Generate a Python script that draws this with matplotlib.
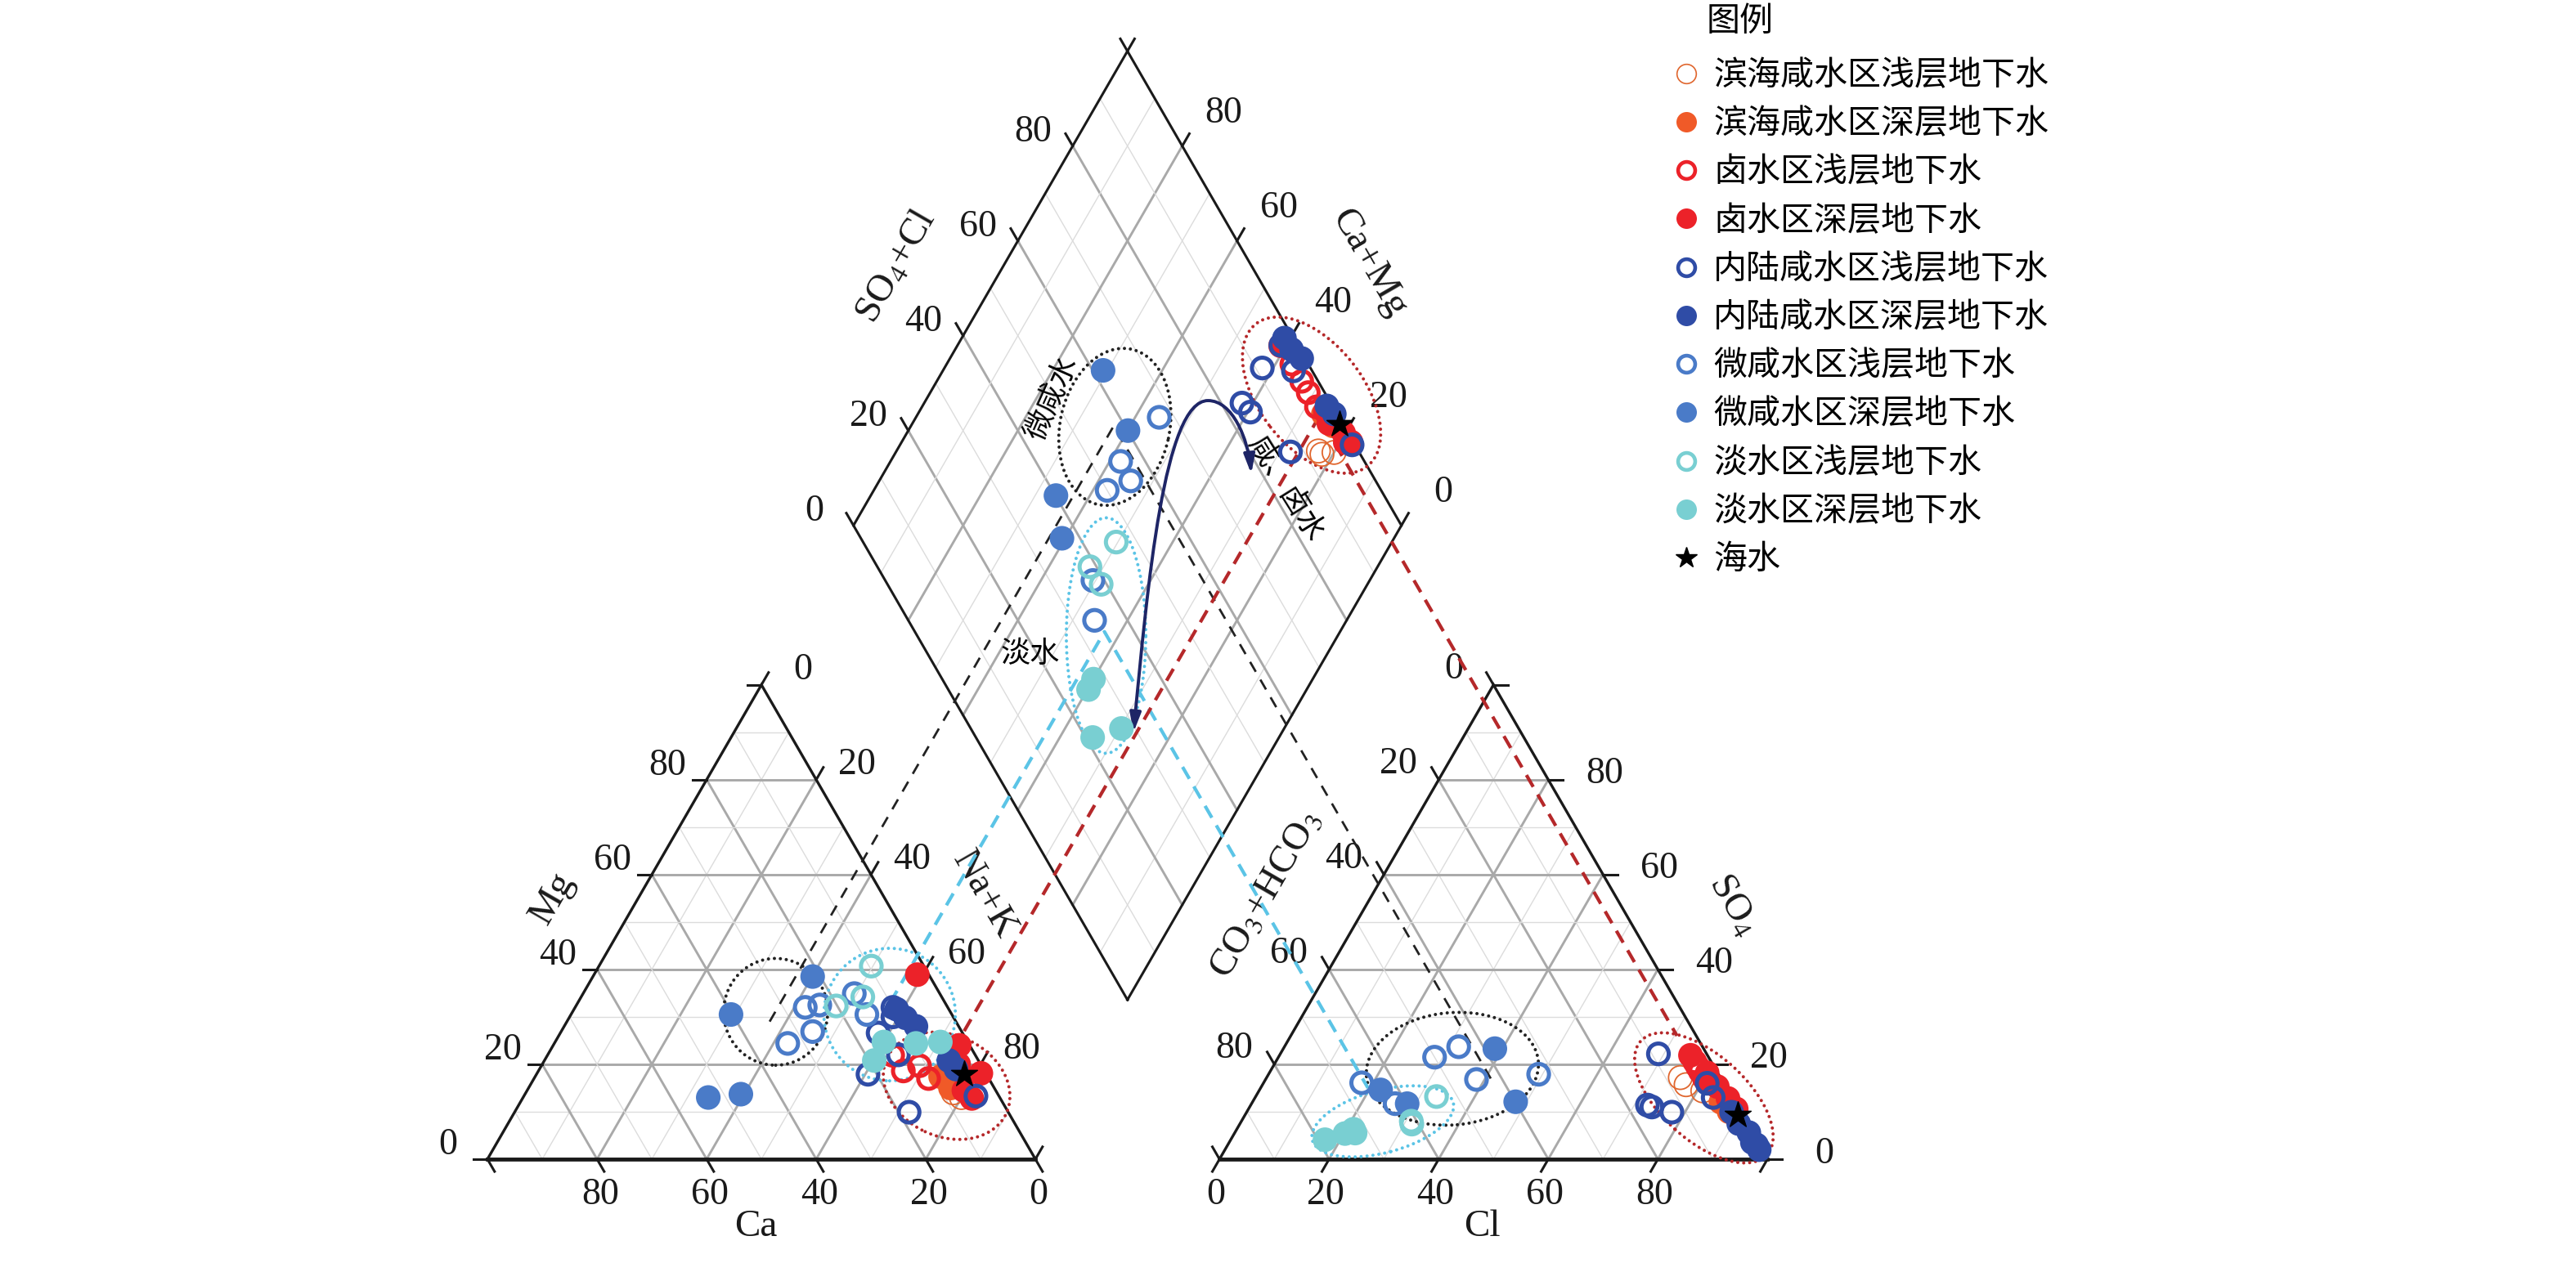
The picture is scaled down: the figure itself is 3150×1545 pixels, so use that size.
import numpy as np
import matplotlib.pyplot as plt
from matplotlib.patches import Ellipse, FancyArrowPatch
from matplotlib.path import Path
from matplotlib.lines import Line2D

plt.rcParams['font.family'] = ['Liberation Serif', 'Noto Sans CJK SC']
plt.rcParams['mathtext.fontset'] = 'stix'
CJK = ['Noto Sans CJK SC', 'DejaVu Sans']

# ---- data (percent meq), one dict per group ----
labels = ["滨海咸水区浅层地下水", "滨海咸水区深层地下水", "卤水区浅层地下水", "卤水区深层地下水",
          "内陆咸水区浅层地下水", "内陆咸水区深层地下水", "微咸水区浅层地下水", "微咸水区深层地下水",
          "淡水区浅层地下水", "淡水区深层地下水", "海水"]
colors = ['#E0662E', '#F05A28', '#EC2229', '#EC2229', '#2F4CA6', '#2F4CA6',
          '#4A7BC8', '#4A7BC8', '#79CFD2', '#79CFD2', 'black']
filled = [False, True, False, True, False, True, False, True, False, True, True]

coast_shallow = dict(mg=[16, 14, 13], nak=[77, 78, 80], so4=[17.2, 15.7, 14.4], cl=[75.5, 77.3, 81])
coast_deep = dict(mg=[17.4, 15], nak=[74, 77], so4=[12, 10], cl=[85.5, 88])
brine_shallow = dict(mg=[21.9, 18.6, 19.7, 17.0], nak=[63, 66.6, 69, 72],
                     so4=[20.5, 19.5, 18.5, 17], cl=[76.5, 77.5, 78.5, 80])
brine_deep = dict(mg=[38.9, 24, 18.1, 14.5, 12.8, 20], nak=[59, 74.1, 81, 79.7, 82, 76],
                  so4=[21.9, 18.2, 15.3, 12.8, 10.6, 16], cl=[75, 79.9, 83.2, 86.4, 89, 81.5])
inland_shallow = dict(mg=[32, 26.6, 17.9, 9.9, 13.3, 30, 22], nak=[58, 58, 60.5, 72, 82.5, 59, 64],
                      so4=[22.2, 11.4, 11, 9.9, 3, 16, 13], cl=[69, 72.4, 73.4, 77.6, 96.5, 81, 83.6])
inland_deep = dict(mg=[31.6, 29.8, 28, 20.8, 19], nak=[58.9, 61.4, 64.2, 73.8, 76],
                   so4=[9.9, 7.5, 5.6, 3.5, 2], cl=[88.5, 91, 93.8, 95.5, 97.5])
brackish_shallow = dict(mg=[32.5, 32, 24.4, 26.9, 30.5, 34.9], nak=[44.4, 42, 42.6, 45.9, 54, 49.5],
                        so4=[17.9, 23.7, 21.5, 16.8, 16.1, 11.7], cl=[49.3, 31.8, 28.5, 38.5, 17.9, 26.2])
brackish_deep = dict(mg=[30.5, 38.5, 13, 13.7], nak=[29.2, 40.1, 33.8, 39.4],
                     so4=[23.3, 12.1, 11.7, 14.6], cl=[38.6, 48, 28.4, 22.1])
fresh_shallow = dict(mg=[40.7, 32.3, 34.2], nak=[49.7, 47.5, 51.4], so4=[13.2, 7.4, 8], cl=[33, 31.4, 31])
fresh_deep = dict(mg=[24.7, 20.8, 24.4, 24.7], nak=[60, 60.2, 66, 70.3],
                  so4=[6.3, 5.4, 4.1, 5.5], cl=[21.3, 20.2, 17.2, 22])
seawater = dict(mg=[18], nak=[78], so4=[9.3], cl=[90])

groups = [coast_shallow, coast_deep, brine_shallow, brine_deep, inland_shallow, inland_deep,
          brackish_shallow, brackish_deep, fresh_shallow, fresh_deep, seawater]

# ---- geometry ----
S3 = np.sqrt(3) / 2
GAP = 33.6
X_AN = 100 + GAP
BX, BY = 100 + GAP / 2, GAP * S3


def cat_xy(mg, nak):
    mg, nak = np.asarray(mg, float), np.asarray(nak, float)
    return nak + mg / 2, mg * S3


def an_xy(so4, cl):
    so4, cl = np.asarray(so4, float), np.asarray(cl, float)
    return X_AN + cl + so4 / 2, so4 * S3


def dia_xy(camg, so4cl):
    camg, so4cl = np.asarray(camg, float), np.asarray(so4cl, float)
    return BX + (so4cl - camg) / 2, BY + (camg + so4cl) * S3


fig = plt.figure(figsize=(31.5, 15.45), dpi=100)
ax = fig.add_axes([0, 0, 1, 1])
ax.set_xlim(-88.96, 381.16)
ax.set_ylim(-18.96, 211.64)
ax.axis('off')

MAJ, MIN = '#A9A9A9', '#DCDCDC'


def gline(p, q, k):
    c, w = (MAJ, 2.1) if k % 20 == 0 else (MIN, 1.0)
    ax.plot([p[0], q[0]], [p[1], q[1]], color=c, lw=w, zorder=1)


for k in range(10, 100, 10):
    # cation triangle
    gline(cat_xy(k, 0), cat_xy(k, 100 - k), k)
    gline(cat_xy(0, k), cat_xy(100 - k, k), k)
    gline(cat_xy(0, 100 - k), cat_xy(100 - k, 0), k)
    # anion triangle
    gline(an_xy(k, 0), an_xy(k, 100 - k), k)
    gline(an_xy(0, k), an_xy(100 - k, k), k)
    gline(an_xy(0, 100 - k), an_xy(100 - k, 0), k)
    # diamond
    gline(dia_xy(k, 0), dia_xy(k, 100), k)
    gline(dia_xy(0, k), dia_xy(100, k), k)

# outlines
cx, cy = cat_xy([0, 0, 100, 0], [0, 100, 0, 0])
ax.plot(cx, cy, color='#1a1a1a', lw=2.4, zorder=3, solid_joinstyle='miter')
axx, ayy = an_xy([0, 0, 100, 0], [0, 100, 0, 0])
ax.plot(axx, ayy, color='#1a1a1a', lw=2.4, zorder=3, solid_joinstyle='miter')
dx_, dy_ = dia_xy([0, 100, 100, 0, 0], [0, 0, 100, 100, 0])
ax.plot(dx_, dy_, color='#1a1a1a', lw=2.2, zorder=3, solid_joinstyle='miter')
ax.plot([0, 100], [0, 0], color='#1a1a1a', lw=3.4, zorder=3)
ax.plot([X_AN, X_AN + 100], [0, 0], color='#1a1a1a', lw=3.4, zorder=3)

# ticks and tick labels
TL = 2.6
vals = [0, 20, 40, 60, 80, 100]


def axis_ticks(base, d, off):
    for v in vals:
        x0, y0 = base(v)
        ax.plot([x0, x0 + TL * d[0]], [y0, y0 + TL * d[1]], color='#1a1a1a', lw=2.2, zorder=3)
        if v < 100:
            ax.text(x0 + off[0], y0 + off[1], str(v), fontsize=33, ha='center', va='center',
                    family='Liberation Serif', color='#1a1a1a')


axis_ticks(lambda v: cat_xy(v, 0), (-1, 0), (-7.2, 2.5))
axis_ticks(lambda v: cat_xy(100 - v, v), (0.5, S3), (7.5, 2.7))
axis_ticks(lambda v: cat_xy(0, 100 - v), (0.5, -S3), (0.6, -6.6))
axis_ticks(lambda v: an_xy(100 - v, 0), (-0.5, S3), (-7.3, 2.8))
axis_ticks(lambda v: an_xy(v, 100 - v), (1, 0), (10.3, 1.0))
axis_ticks(lambda v: an_xy(0, v), (-0.5, -S3), (-0.6, -6.6))
axis_ticks(lambda v: dia_xy(100, v), (-0.5, S3), (-7.2, 2.5))
axis_ticks(lambda v: dia_xy(v, 100), (0.5, S3), (7.6, 6.0))

# axis titles
tkw = dict(fontsize=34, ha='center', va='center', color='#1a1a1a', family='Liberation Serif')
ax.text(49, -12.4, 'Ca', **tkw)
ax.text(11.9, 47.6, 'Mg', rotation=60, **tkw)
ax.text(90.7, 48.2, 'Na+K', rotation=-60, **tkw)
ax.text(181.5, -12.4, 'Cl', **tkw)
ax.text(142.1, 48.3, 'CO$_3$+HCO$_3$', rotation=60, **tkw)
ax.text(227.3, 46.4, 'SO$_4$', rotation=-60, **tkw)
ax.text(74.8, 163, 'SO$_4$+Cl', rotation=60, **tkw)
ax.text(160.9, 163.6, 'Ca+Mg', rotation=-60, **tkw)

# dotted ellipses (centre x, centre y, width, height, angle)
BLK, SKY, DRED = '#222222', '#5BC4E6', '#B5282A'
ellipses = [
    (BLK, 52.6, 26.9, 19.0, 19.5, 0), (SKY, 73.4, 26.4, 24.0, 24.2, 0), (DRED, 83.8, 13.4, 24.0, 18.5, -25),
    (BLK, 176.1, 16.5, 31.5, 20.5, 5), (SKY, 163.4, 6.9, 26.6, 11.4, 15), (DRED, 222.0, 11.2, 31.0, 15.6, -42),
    (BLK, 114.5, 133.7, 29.0, 20.0, 78), (SKY, 112.9, 95.6, 43.0, 14.5, 90), (DRED, 150.4, 139.5, 33.0, 19.0, -52),
]
for c, x, y, w, h, a in ellipses:
    e = Ellipse((x, y), w, h, angle=a, fill=False, edgecolor=c, lw=2.9,
                linestyle=(0, (0.01, 1.8)), capstyle='round', zorder=4)
    ax.add_patch(e)

# projection lines: colour, Na+K and SO4+Cl of the junction, start Mg, start SO4
proj = [(BLK, 37, 58, 29, 17, 2.0, (5.0, 4.0)),
        (SKY, 57, 34.6, 33, 15, 3.0, (4.0, 2.6)),
        (DRED, 73.5, 96.5, 27, 26, 3.0, (4.0, 2.6))]
for c, n, s, m0, q0, lw, dsh in proj:
    x1, y1 = cat_xy(m0, n)
    x2, y2 = dia_xy(100 - n, s)
    x3, y3 = an_xy(q0, s - q0)
    ax.plot([x1, x2, x3], [y1, y2, y3], color=c, lw=lw, dashes=dsh, zorder=4)

# curved arrow in the diamond
verts = [(117.9, 77.9), (120.5, 105), (123.5, 138.5), (131.5, 138.5),
         (136, 138.5), (138.8, 131.5), (139.4, 125.1)]
codes = [Path.MOVETO] + [Path.CURVE4] * 6
arr = FancyArrowPatch(path=Path(verts, codes), arrowstyle='<|-|>,head_length=14,head_width=4',
                      color='#1E2566', lw=2.8, zorder=5)
ax.add_patch(arr)

ax.text(103, 138.9, '微咸水', rotation=66, fontsize=26, ha='center', va='center', family=CJK)
ax.text(99, 92.2, '淡水', fontsize=26, ha='center', va='center', family=CJK)
ax.text(145.6, 122.3, '咸、卤水', rotation=-58, fontsize=26, ha='center', va='center', family=CJK)

# samples
handles = []
for g, lab, col, fill in zip(groups, labels, colors, filled):
    xs = [cat_xy(g['mg'], g['nak']), an_xy(g['so4'], g['cl']),
          dia_xy(100 - np.asarray(g['nak']), np.asarray(g['so4']) + np.asarray(g['cl']))]
    for x, y in xs:
        if lab == '海水':
            ax.scatter(x, y, s=580, marker='*', color='black', zorder=8)
        elif fill:
            ax.scatter(x, y, s=470, color=col, edgecolors='none', zorder=6)
        elif lab.startswith('滨海'):
            ax.scatter(x, y, s=430, facecolors='none', edgecolors=col, linewidths=1.3, zorder=6)
        else:
            ax.scatter(x, y, s=330, facecolors='none', edgecolors=col, linewidths=3.6, zorder=6)
    if lab == '海水':
        handles.append(Line2D([], [], ls='none', marker='*', ms=19, color='black'))
    elif fill:
        handles.append(Line2D([], [], ls='none', marker='o', ms=18, mfc=col, mec='none'))
    elif lab.startswith('滨海'):
        handles.append(Line2D([], [], ls='none', marker='o', ms=17, mfc='none', mec=col, mew=1.2))
    else:
        handles.append(Line2D([], [], ls='none', marker='o', ms=15, mfc='none', mec=col, mew=3.3))

fig.legend(handles, labels, loc='upper left', bbox_to_anchor=(2050 / 3150, 1 - 72 / 1545),
           frameon=False, prop={'family': CJK, 'size': 29.5}, handlelength=0.6,
           handletextpad=0.5, labelspacing=0.445, borderpad=0, borderaxespad=0)
fig.text(2128 / 3150, 1 - 26 / 1545, '图例', fontsize=29.5, ha='center', va='center', family=CJK)

fig.savefig('out.png', dpi=100)
